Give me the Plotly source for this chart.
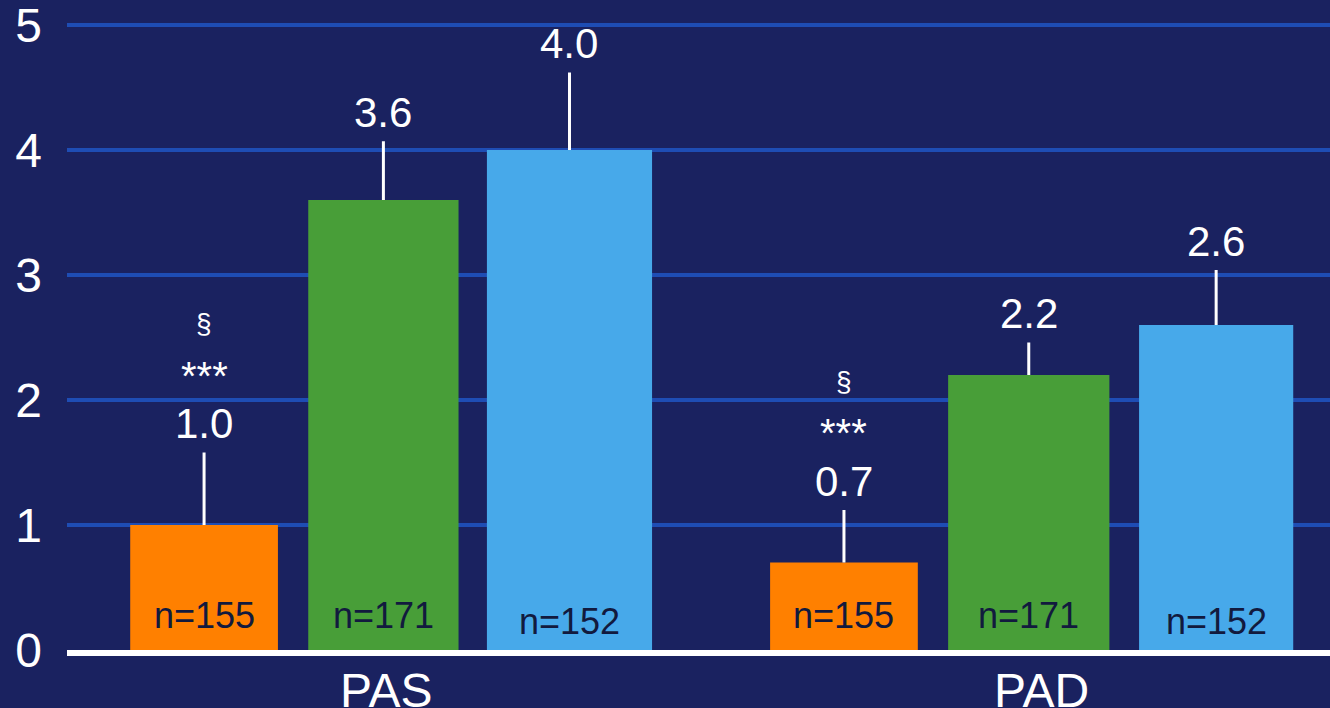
import plotly.graph_objects as go

# ---- data -------------------------------------------------------------
categories = ["PAS", "PAD"]

series_names = ["Groupe 1", "Groupe 2", "Groupe 3"]
values_g1 = [1.0, 0.7]
values_g2 = [3.6, 2.2]
values_g3 = [4.0, 2.6]

err_g1 = [0.58, 0.42]
err_g2 = [0.47, 0.26]
err_g3 = [0.62, 0.44]

n_g1 = [155, 155]
n_g2 = [171, 171]
n_g3 = [152, 152]

stars_g1 = ["***", "***"]
section_g1 = ["§", "§"]

y_ticks = [0, 1, 2, 3, 4, 5]

# ---- styling ----------------------------------------------------------
BG = "#1a2260"
GRID = "#1e4db4"
COLORS = ["#ff8000", "#489e38", "#47a9ea"]
N_COLOR = "#121a3e"
FONT = "Liberation Sans, Arial, sans-serif"

# per-bar placement inside each category slot (offset from slot, width)
offsets = [[-0.392, -0.400], [-0.116, -0.124], [0.161, 0.172]]
widths = [[0.229, 0.229], [0.233, 0.250], [0.256, 0.239]]
# horizontal nudge of each category caption
caption_shift = [0.005, 0.02]

values = [values_g1, values_g2, values_g3]
errors = [err_g1, err_g2, err_g3]
counts = [n_g1, n_g2, n_g3]

xpos = list(range(len(categories)))

fig = go.Figure()
for k in range(3):
    fig.add_trace(go.Bar(
        x=xpos,
        y=values[k],
        name=series_names[k],
        offset=offsets[k],
        width=widths[k],
        marker=dict(color=COLORS[k], line=dict(width=0)),
        error_y=dict(
            type="data", symmetric=False,
            array=errors[k], arrayminus=[0] * len(categories),
            color="white", thickness=3, width=0,
        ),
        showlegend=False,
        hoverinfo="skip",
    ))

annotations = []
for k in range(3):
    for i in range(len(categories)):
        cx = xpos[i] + offsets[k][i] + widths[k][i] / 2
        top = values[k][i] + errors[k][i]
        # value above the error bar
        annotations.append(dict(
            x=cx, y=top, xref="x", yref="y", text=f"{values[k][i]:.1f}",
            showarrow=False, yanchor="middle", yshift=29,
            font=dict(family=FONT, size=42, color="white"),
        ))
        # sample size at the foot of the bar
        annotations.append(dict(
            x=cx, y=0, xref="x", yref="y", text=f"n={counts[k][i]}",
            showarrow=False, yanchor="middle", yshift=(29 if k == 2 else 35),
            font=dict(family=FONT, size=36, color=N_COLOR),
        ))
        if k == 0:
            annotations.append(dict(
                x=cx, y=top, xref="x", yref="y", text=stars_g1[i],
                showarrow=False, yanchor="middle", yshift=77,
                font=dict(family=FONT, size=40, color="white"),
            ))
            annotations.append(dict(
                x=cx, y=top, xref="x", yref="y", text=section_g1[i],
                showarrow=False, yanchor="middle", yshift=129,
                font=dict(family=FONT, size=28, color="white"),
            ))

# category captions under the axis line
for i, cat in enumerate(categories):
    annotations.append(dict(
        x=xpos[i] + caption_shift[i], y=0, xref="x", yref="paper",
        text=cat, showarrow=False, yanchor="top", yshift=-12,
        font=dict(family=FONT, size=48, color="white"),
    ))

fig.update_layout(
    width=1330, height=708,
    margin=dict(l=67, r=0, t=20, b=58),
    paper_bgcolor=BG, plot_bgcolor=BG,
    barmode="overlay",
    annotations=annotations,
    font=dict(family=FONT, color="white"),
    xaxis=dict(
        range=[-0.490, 1.468],
        showticklabels=False,
        showgrid=False, zeroline=False,
        showline=True, linecolor="white", linewidth=6,
        ticks="", automargin=False,
        fixedrange=True,
    ),
    yaxis=dict(
        range=[0, 5.04],
        tickmode="array", tickvals=y_ticks,
        showgrid=True, gridcolor=GRID, gridwidth=4,
        zeroline=True, zerolinecolor=BG, zerolinewidth=4,
        showline=False, ticks="", ticklabelstandoff=24,
        ticklabeloverflow="allow", automargin=False,
        tickfont=dict(family=FONT, size=48, color="white"),
        fixedrange=True,
    ),
)

fig.write_html("out.html")
